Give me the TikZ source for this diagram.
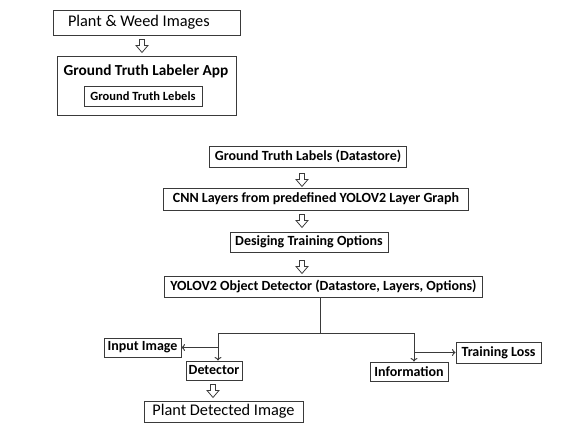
\documentclass[tikz,border=0pt]{standalone}
\usepackage{fontspec}
\setmainfont{Carlito}
\usepackage{tikz}
\usetikzlibrary{arrows,arrows.meta}
\definecolor{linegray}{HTML}{3A3A3A}

\tikzset{
	box/.style={draw=linegray, line width=0.9pt, inner sep=0pt, font=\bfseries\fontsize{14}{16}\selectfont},
	plainbox/.style={box, font=\fontsize{16.3}{18}\selectfont},
	link/.style={draw=linegray, line width=1pt, >={To[length=3.5pt, width=7pt]}},
	hollowarrow/.pic={\draw[draw=linegray, line width=0.8pt, fill=white] (-2.5,0) -- (-2.5,6) -- (-6,6) -- (0,13) -- (6,6) -- (2.5,6) -- (2.5,0) -- cycle;}
}

\begin{document}
\begin{tikzpicture}[x=1pt, y=-1pt]
	\useasboundingbox (0,0) rectangle (582,431);

	% labelling stage
	\node[plainbox, minimum width=187, minimum height=25] (pwi) at (146.5, 22.5) {\makebox[165pt][l]{\hspace*{4pt}Plant \& Weed Images}};
	\node[box, minimum width=179, minimum height=59] (app) at (146.5, 85.5) {};
	\node[font=\bfseries\fontsize{15.3}{17}\selectfont] (appt) at (146, 71) {Ground Truth Labeler App};
	\node[box, minimum width=118, minimum height=20, font=\bfseries\fontsize{12.5}{14}\selectfont] (gtl) at (143, 96) {Ground Truth Lebels};
	\pic at ([xshift=-4.5pt, yshift=-4pt]pwi.south) {hollowarrow};

	% training stage
	\node[box, minimum width=197, minimum height=21] (gtds) at (308, 156.5) {Ground Truth Labels (Datastore)};
	\node[box, minimum width=305, minimum height=22] (cnn) at (316, 199) {CNN Layers from predefined YOLOV2 Layer Graph};
	\node[box, minimum width=158, minimum height=20] (opts) at (309, 242) {Desiging Training Options};
	\node[box, minimum width=318, minimum height=21] (yolo) at (323.5, 286.5) {YOLOV2 Object Detector (Datastore, Layers, Options)};
	\pic at ([xshift=-6pt, yshift=-6pt]gtds.south) {hollowarrow};
	\pic at ([xshift=-14pt, yshift=-4pt]cnn.south) {hollowarrow};
	\pic at ([xshift=-7pt, yshift=-8pt]opts.south) {hollowarrow};

	% outputs
	\node[box, minimum width=77, minimum height=19] (inp) at (142.5, 347.5) {Input Image};
	\node[box, minimum width=56, minimum height=19] (det) at (214, 370.5) {Detector};
	\node[plainbox, minimum width=159, minimum height=21] (pdi) at (223.5, 411.5) {Plant Detected Image};
	\node[box, minimum width=78, minimum height=19] (info) at (409, 371.5) {Information};
	\node[box, minimum width=85, minimum height=21] (tl) at (498.5, 352.5) {Training Loss};
	\pic at ([xshift=-1pt, yshift=-4pt]det.south) {hollowarrow};

	\coordinate (split) at (320, 333);
	\coordinate (lb) at (218, 333);
	\coordinate (rb) at (414, 333);
	\path[link] (yolo.south -| split) -- (split);
	\path[link] (lb) -- (rb);
	\path[link, ->] (lb) -- (lb |- det.north);
	\path[link, ->] (lb |- inp.east) -- (inp.east);
	\path[link, ->] (rb) -- (rb |- info.north);
	\path[link, ->] (rb |- tl.west) -- (tl.west);
\end{tikzpicture}
\end{document}
